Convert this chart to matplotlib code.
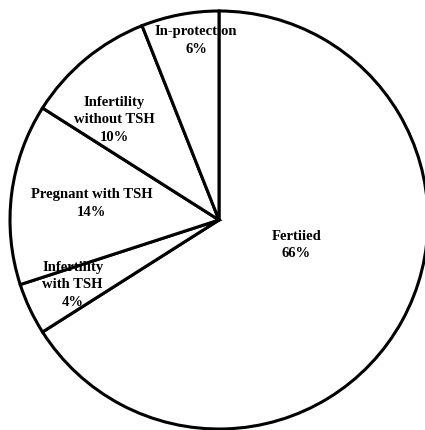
import matplotlib
matplotlib.use('Agg')
import matplotlib.pyplot as plt

# data
categories = ['Fertiied', 'Infertility\nwith TSH', 'Pregnant with TSH',
              'Infertility\nwithout TSH', 'In-protection']
percents = [66, 4, 14, 10, 6]

# label centres (data units, radius = 1)
label_pos = [(0.37, -0.12), (-0.70, -0.31), (-0.61, 0.08),
             (-0.50, 0.48), (-0.11, 0.86)]

plt.rcParams['font.family'] = ['Liberation Serif', 'DejaVu Serif']

fig = plt.figure(figsize=(4.25, 4.30), dpi=100)
ax = fig.add_axes([0, 0, 1, 1])

wedges, _ = ax.pie(percents, startangle=90, counterclock=False,
                   colors=['white'] * len(percents),
                   wedgeprops={'edgecolor': 'black', 'linewidth': 2.2})
for w in wedges:
    w.set_clip_on(False)

for cat, p, (x, y) in zip(categories, percents, label_pos):
    ax.text(x, y, cat + '\n' + str(p) + '%', ha='center', va='center',
            fontsize=10.5, fontweight='bold', linespacing=1.45)

r = 209.0
ax.set_xlim(-219 / r, 206 / r)
ax.set_ylim(-210 / r, 220 / r)
ax.set_aspect('auto')
ax.axis('off')

plt.savefig('out.png', dpi=100)
